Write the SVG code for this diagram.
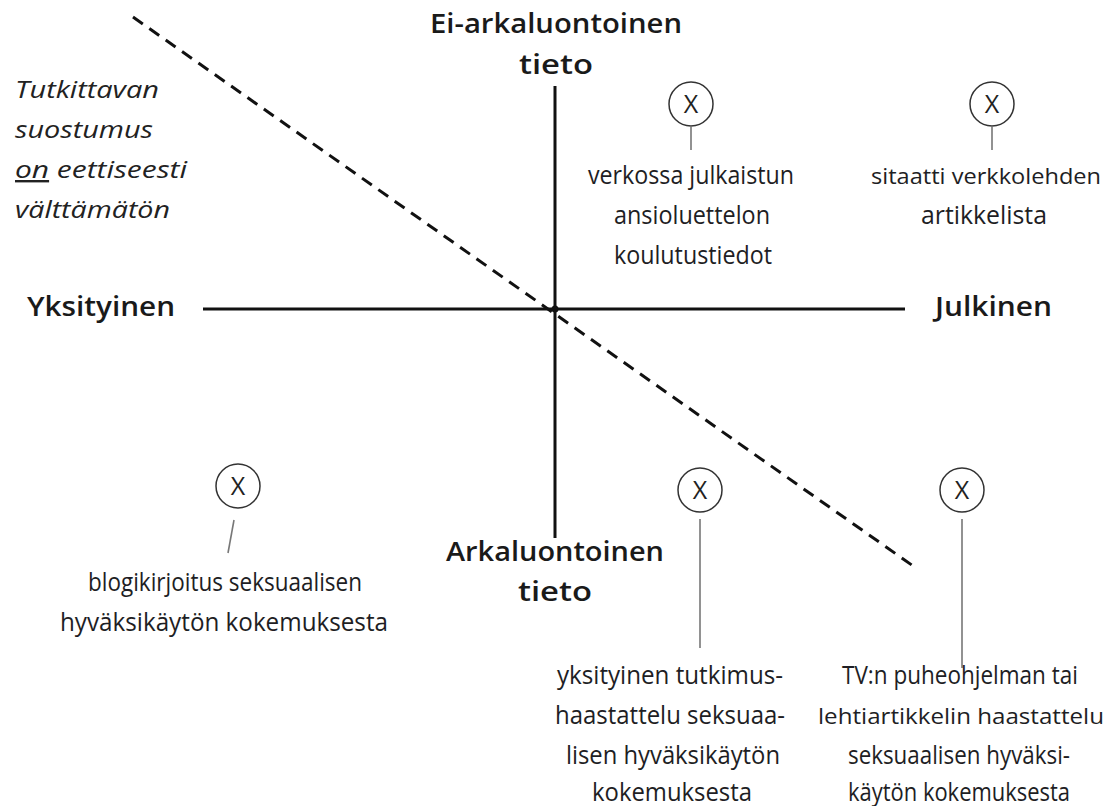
<svg xmlns="http://www.w3.org/2000/svg" width="1110" height="806" viewBox="0 0 1110 806">
<style>
.bg{fill:#fff}
.axis{stroke:#111;stroke-width:3;fill:none}
.dash{stroke:#111;stroke-width:3;stroke-dasharray:12 8;fill:none}
.lead{stroke:#777;stroke-width:1.6;fill:none}
.mark{fill:#fff;stroke:#333;stroke-width:1.5}
.x{font-family:"Open Sans","Liberation Sans",sans-serif;font-size:25px;font-weight:400;fill:#222;text-anchor:middle}
.big{font-family:"Open Sans","Liberation Sans",sans-serif;font-size:27px;fill:#1a1a1a;font-weight:600}
.it{font-family:"Open Sans","Liberation Sans",sans-serif;font-size:24px;fill:#222;font-style:italic}
.lbl{font-family:"Open Sans","Liberation Sans",sans-serif;font-size:25px;fill:#1e1e24;text-anchor:middle}
.lbl.s{font-size:22px}
</style>
<rect class="bg" width="1110" height="806"/>
<g id="connectors">
<line class="dash" x1="133" y1="17" x2="916" y2="568"/>
<line class="axis" x1="555" y1="86" x2="555" y2="538"/>
<line class="axis" x1="203" y1="309" x2="905" y2="309"/>
<circle cx="555" cy="309" r="3.5" fill="#111"/>
<line class="lead" x1="691" y1="127" x2="691" y2="150"/>
<line class="lead" x1="992" y1="127" x2="992" y2="150"/>
<line class="lead" x1="234" y1="520" x2="228" y2="553"/>
<line class="lead" x1="700" y1="519" x2="700" y2="648"/>
<line class="lead" x1="962" y1="519" x2="962" y2="668"/>
</g>
<g id="axis-top">
<text class="big" x="556" y="33" text-anchor="middle" textLength="252" lengthAdjust="spacingAndGlyphs">Ei-arkaluontoinen</text>
<text class="big" x="556" y="74" text-anchor="middle" textLength="74" lengthAdjust="spacingAndGlyphs">tieto</text>
</g>
<g id="axis-bottom">
<text class="big" x="555" y="561" text-anchor="middle" textLength="218" lengthAdjust="spacingAndGlyphs">Arkaluontoinen</text>
<text class="big" x="555" y="601" text-anchor="middle" textLength="74" lengthAdjust="spacingAndGlyphs">tieto</text>
</g>
<g id="axis-left">
<text class="big" x="27" y="316" textLength="148" lengthAdjust="spacingAndGlyphs">Yksityinen</text>
</g>
<g id="axis-right">
<text class="big" x="935" y="316" textLength="117" lengthAdjust="spacingAndGlyphs">Julkinen</text>
</g>
<g id="consent-note">
<text class="it" x="15" y="98" textLength="144" lengthAdjust="spacingAndGlyphs">Tutkittavan</text>
<text class="it" x="15" y="138" textLength="138" lengthAdjust="spacingAndGlyphs">suostumus</text>
<text class="it" x="15" y="178" textLength="172" lengthAdjust="spacingAndGlyphs"><tspan text-decoration="underline">on</tspan> eettiseesti</text>
<text class="it" x="15" y="218" textLength="155" lengthAdjust="spacingAndGlyphs">välttämätön</text>
</g>
<g id="item-cv">
<circle class="mark" cx="691" cy="104" r="22"/>
<text class="x" x="691" y="113">X</text>
<text class="lbl" x="691" y="184" textLength="206" lengthAdjust="spacingAndGlyphs">verkossa julkaistun</text>
<text class="lbl" x="692" y="224" textLength="156" lengthAdjust="spacingAndGlyphs">ansioluettelon</text>
<text class="lbl" x="693" y="264" textLength="158" lengthAdjust="spacingAndGlyphs">koulutustiedot</text>
</g>
<g id="item-quote">
<circle class="mark" cx="992" cy="104" r="22"/>
<text class="x" x="992" y="113">X</text>
<text class="lbl s" x="986" y="184" textLength="230" lengthAdjust="spacingAndGlyphs" style="font-size:22px">sitaatti verkkolehden</text>
<text class="lbl" x="984" y="224" textLength="126" lengthAdjust="spacingAndGlyphs">artikkelista</text>
</g>
<g id="item-blog">
<circle class="mark" cx="238" cy="486" r="22"/>
<text class="x" x="238" y="495">X</text>
<text class="lbl" x="225" y="591" textLength="274" lengthAdjust="spacingAndGlyphs">blogikirjoitus seksuaalisen</text>
<text class="lbl" x="224" y="631" textLength="328" lengthAdjust="spacingAndGlyphs">hyväksikäytön kokemuksesta</text>
</g>
<g id="item-research">
<circle class="mark" cx="700" cy="490" r="22"/>
<text class="x" x="700" y="499">X</text>
<text class="lbl" x="670" y="684" textLength="226" lengthAdjust="spacingAndGlyphs">yksityinen tutkimus-</text>
<text class="lbl" x="670" y="724" textLength="230" lengthAdjust="spacingAndGlyphs">haastattelu seksuaa-</text>
<text class="lbl" x="673" y="764" textLength="214" lengthAdjust="spacingAndGlyphs">lisen hyväksikäytön</text>
<text class="lbl" x="672" y="801" textLength="160" lengthAdjust="spacingAndGlyphs">kokemuksesta</text>
</g>
<g id="item-tv">
<circle class="mark" cx="962" cy="490" r="22"/>
<text class="x" x="962" y="499">X</text>
<text class="lbl" x="960" y="684" textLength="236" lengthAdjust="spacingAndGlyphs">TV:n puheohjelman tai</text>
<text class="lbl s" x="961" y="724" textLength="286" lengthAdjust="spacingAndGlyphs" style="font-size:22px">lehtiartikkelin haastattelu</text>
<text class="lbl" x="959" y="764" textLength="222" lengthAdjust="spacingAndGlyphs">seksuaalisen hyväksi-</text>
<text class="lbl" x="959" y="801" textLength="222" lengthAdjust="spacingAndGlyphs">käytön kokemuksesta</text>
</g>
</svg>
